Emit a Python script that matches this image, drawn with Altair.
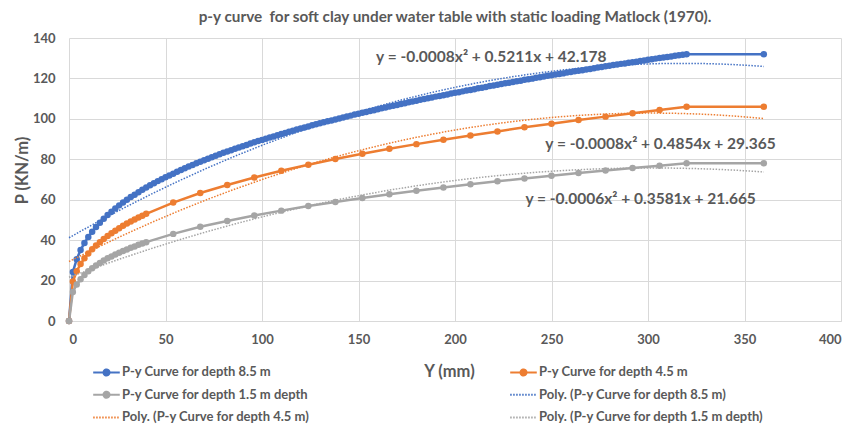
import altair as alt
import pandas as pd

# ---------------- data ----------------
S85 = "P-y Curve for depth 8.5 m"
S45 = "P-y Curve for depth 4.5 m"
S15 = "P-y Curve for depth 1.5 m depth"
POLY85 = "Poly. (P-y Curve for depth 8.5 m)"
POLY45 = "Poly. (P-y Curve for depth 4.5 m)"
POLY15 = "Poly. (P-y Curve for depth 1.5 m depth)"

Y_85 = [
    0, 2, 4, 6, 8, 10, 12, 14, 16, 18, 20, 22, 24, 26, 28, 30, 32, 34, 36, 38,
    40, 42, 44, 46, 48, 50, 52, 54, 56, 58, 60, 62, 64, 66, 68, 70, 72, 74, 76, 78,
    80, 82, 84, 86, 88, 90, 92, 94, 96, 98, 100, 102, 104, 106, 108, 110, 112, 114, 116, 118,
    120, 122, 124, 126, 128, 130, 132, 134, 136, 138, 140, 142, 144, 146, 148, 150, 152, 154, 156, 158,
    160, 162, 164, 166, 168, 170, 172, 174, 176, 178, 180, 182, 184, 186, 188, 190, 192, 194, 196, 198,
    200, 202, 204, 206, 208, 210, 212, 214, 216, 218, 220, 222, 224, 226, 228, 230, 232, 234, 236, 238,
    240, 242, 244, 246, 248, 250, 252, 254, 256, 258, 260, 262, 264, 266, 268, 270, 272, 274, 276, 278,
    280, 282, 284, 286, 288, 290, 292, 294, 296, 298, 300, 302, 304, 306, 308, 310, 312, 314, 316, 318,
    320, 360,
]
P_85 = [
    0.0, 24.3, 30.6, 35.1, 38.6, 41.6, 44.2, 46.5, 48.6, 50.6, 52.4, 54.1, 55.7, 57.2, 58.6, 60.0, 61.3, 62.5, 63.7, 64.9,
    66.0, 67.1, 68.1, 69.2, 70.1, 71.1, 72.0, 72.9, 73.8, 74.7, 75.6, 76.4, 77.2, 78.0, 78.8, 79.5, 80.3, 81.0, 81.7, 82.5,
    83.2, 83.8, 84.5, 85.2, 85.8, 86.5, 87.1, 87.8, 88.4, 89.0, 89.6, 90.2, 90.8, 91.3, 91.9, 92.5, 93.0, 93.6, 94.1, 94.7,
    95.2, 95.7, 96.2, 96.8, 97.3, 97.8, 98.3, 98.8, 99.2, 99.7, 100.2, 100.7, 101.2, 101.6, 102.1, 102.5, 103.0, 103.4, 103.9, 104.3,
    104.8, 105.2, 105.6, 106.1, 106.5, 106.9, 107.3, 107.7, 108.2, 108.6, 109.0, 109.4, 109.8, 110.2, 110.6, 111.0, 111.3, 111.7, 112.1, 112.5,
    112.9, 113.2, 113.6, 114.0, 114.3, 114.7, 115.1, 115.4, 115.8, 116.2, 116.5, 116.9, 117.2, 117.6, 117.9, 118.2, 118.6, 118.9, 119.3, 119.6,
    119.9, 120.3, 120.6, 120.9, 121.3, 121.6, 121.9, 122.2, 122.5, 122.9, 123.2, 123.5, 123.8, 124.1, 124.4, 124.7, 125.0, 125.4, 125.7, 126.0,
    126.3, 126.6, 126.9, 127.2, 127.4, 127.7, 128.0, 128.3, 128.6, 128.9, 129.2, 129.5, 129.8, 130.1, 130.3, 130.6, 130.9, 131.2, 131.5, 131.7,
    132.0, 132.0,
]

Y_45 = [
    0, 2, 4, 6, 8, 10, 12, 14, 16, 18, 20, 22, 24, 26, 28, 30, 32, 34, 36, 38, 40,
    54, 68, 82, 96, 110, 124, 138, 152, 166, 180, 194, 208, 222, 236, 250, 264, 278, 292, 306, 320, 360,
]
P_45 = [
    0.0, 19.5, 24.6, 28.2, 31.0, 33.4, 35.5, 37.4, 39.0, 40.6, 42.1, 43.4, 44.7, 45.9, 47.1, 48.2, 49.2, 50.2, 51.2, 52.1, 53.0,
    58.6, 63.3, 67.3, 71.0, 74.3, 77.3, 80.1, 82.7, 85.2, 87.5, 89.7, 91.8, 93.8, 95.8, 97.6, 99.4, 101.1, 102.8, 104.4, 106.0, 106.0,
]

Y_15 = [
    0, 2, 4, 6, 8, 10, 12, 14, 16, 18, 20, 22, 24, 26, 28, 30, 32, 34, 36, 38, 40,
    54, 68, 82, 96, 110, 124, 138, 152, 166, 180, 194, 208, 222, 236, 250, 264, 278, 292, 306, 320, 360,
]
P_15 = [
    0.0, 14.4, 18.1, 20.7, 22.8, 24.6, 26.1, 27.5, 28.7, 29.9, 31.0, 31.9, 32.9, 33.8, 34.6, 35.4, 36.2, 36.9, 37.7, 38.3, 39.0,
    43.1, 46.6, 49.5, 52.2, 54.6, 56.9, 58.9, 60.9, 62.7, 64.4, 66.0, 67.6, 69.1, 70.5, 71.8, 73.2, 74.4, 75.7, 76.8, 78.0, 78.0,
]

EQ_TEXT = [
    "y = -0.0008x² + 0.5211x + 42.178",
    "y = -0.0008x² + 0.4854x + 29.365",
    "y = -0.0006x² + 0.3581x + 21.665",
]
EQ_AT_Y = [218.8, 306.5, 296.2]
EQ_AT_P = [130.5, 87.7, 60.2]

X_TICKS = [0, 50, 100, 150, 200, 250, 300, 350, 400]
P_TICKS = [0, 20, 40, 60, 80, 100, 120, 140]

TITLE = "p-y curve \u00a0for soft clay under water table with static loading Matlock (1970)."

# ---------------- tables ----------------
df = pd.concat([
    pd.DataFrame({"Y": Y_85, "P": P_85, "series": S85}),
    pd.DataFrame({"Y": Y_45, "P": P_45, "series": S45}),
    pd.DataFrame({"Y": Y_15, "P": P_15, "series": S15}),
], ignore_index=True)
eq_df = pd.DataFrame({"Y": EQ_AT_Y, "P": EQ_AT_P, "t": EQ_TEXT})

NAMES = [S85, S45, S15, POLY85, POLY45, POLY15]
BLUE, ORANGE, GREYS = "#4472C4", "#ED7D31", "#A5A5A5"
COLORS = [BLUE, ORANGE, GREYS, BLUE, ORANGE, GREYS]
FONT = "Lato"
TXT = "#595959"
GRID = "#D9D9D9"

is_poly = "indexof(datum.value, 'Poly') == 0"
line_dot = "M-1.9,0H1.9M-0.43,0A0.43,0.43,0,1,1,0.43,0A0.43,0.43,0,1,1,-0.43,0Z"

legend = alt.Legend(
    title=None, orient="none", direction="horizontal", legendX=29.5, legendY=326, columns=2,
    columnPadding=196, rowPadding=6.7, padding=0,
    symbolSize=196, symbolStrokeWidth=2, labelOffset=7.5,
    symbolType={"expr": f"{is_poly} ? 'M-1.9,0H1.9' : '{line_dot}'"},
    symbolDash={"expr": f"{is_poly} ? [1.5,1.5] : [1,0]"},
    symbolOpacity=1,
    labelFont=FONT, labelFontSize=13, labelFontWeight="bold", labelColor=TXT, labelLimit=400,
)

xs = alt.Scale(domain=[0, 400], nice=False)
ys = alt.Scale(domain=[0, 140], nice=False)
cs = alt.Scale(domain=NAMES, range=COLORS)

x_axis = alt.Axis(
    values=X_TICKS, title="Y (mm)", grid=True, gridColor=GRID, domainColor=GRID,
    ticks=False, tickSize=0, labelPadding=12,
    labelFont=FONT, labelFontSize=13, labelFontWeight="bold", labelColor=TXT,
    titleFont=FONT, titleFontSize=16.5, titleFontWeight="bold", titleColor=TXT,
    titleX=380, titleY=50, titleBaseline="middle",
)
y_axis = alt.Axis(
    values=P_TICKS, title="P (KN/m)", grid=True, gridColor=GRID, domain=False,
    ticks=False, tickSize=0, labelPadding=14,
    labelFont=FONT, labelFontSize=13, labelFontWeight="bold", labelColor=TXT,
    titleFont=FONT, titleFontSize=16.5, titleFontWeight="bold", titleColor=TXT,
    titleX=-47, titleY=132, titleAngle=-90, titleBaseline="middle", titleAlign="center",
)

X = alt.X("Y:Q", scale=xs, axis=x_axis)
Yc = alt.Y("P:Q", scale=ys, axis=y_axis)
C = alt.Color("series:N", scale=cs, legend=legend)

base = alt.Chart(df)
lines = base.mark_line(strokeWidth=2.5).encode(x=X, y=Yc, color=C)
points = base.mark_circle(size=42, opacity=1).encode(x=X, y=Yc, color=C)
trend = (
    base.transform_regression("Y", "P", method="poly", order=2, groupby=["series"], extent=[0, 360])
    .transform_calculate(series="'Poly. (' + datum.series + ')'")
    .mark_line(strokeWidth=1.5, strokeDash=[1.5, 1.5])
    .encode(x=X, y=Yc, color=C)
)
eqs = alt.Chart(eq_df).mark_text(
    font=FONT, fontSize=15.5, fontWeight="bold", color=TXT
).encode(x=alt.X("Y:Q", scale=xs), y=alt.Y("P:Q", scale=ys), text="t:N")

chart = (
    alt.layer(lines, points, trend, eqs)
    .properties(
        width=772, height=283,
        title=alt.Title(TITLE, font=FONT, fontSize=15.3, fontWeight="bold", color=TXT,
                        anchor="middle", frame="group", offset=7),
        autosize=alt.AutoSizeParams(type="none"),
        padding={"left": 69, "top": 38, "right": 12, "bottom": 103},
        background="white",
    )
    .configure_view(stroke="transparent")
)

chart.save("out.html", embed_options={"renderer": "svg", "actions": False})
